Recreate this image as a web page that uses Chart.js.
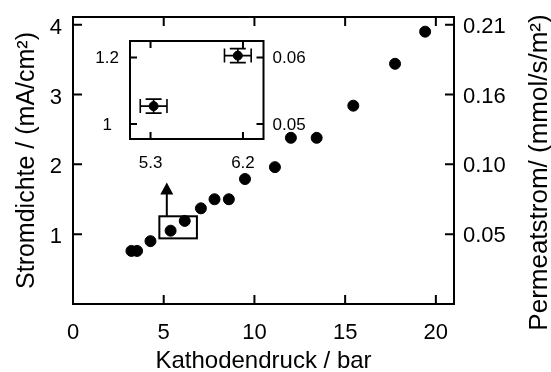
<!DOCTYPE html>
<html>
<head>
<meta charset="utf-8">
<script src="https://cdn.jsdelivr.net/npm/chart.js@4/dist/chart.umd.min.js"></script>
<style>
  html, body { margin: 0; padding: 0; background: #fff; }
  #wrap { position: relative; width: 551px; height: 372px; }
  #main { position: absolute; left: 0; top: 0; width: 551px; height: 372px; }
  #inset { position: absolute; left: 90px; top: 30px; width: 220px; height: 150px; }
</style>
</head>
<body>
<div id="wrap">
  <canvas id="main" width="551" height="372"></canvas>
  <canvas id="inset" width="220" height="150"></canvas>
</div>
<script>
// main data
const pressure = [3.22, 3.53, 4.27, 5.38, 6.16, 7.05, 7.80, 8.59, 9.48, 11.13, 12.01, 13.43, 15.45, 17.75, 19.41];
const currentDensity = [0.76, 0.76, 0.90, 1.05, 1.19, 1.37, 1.50, 1.50, 1.79, 1.96, 2.38, 2.38, 2.84, 3.44, 3.90];

const xTicks = [0, 5, 10, 15, 20];
const yTicks = [1, 2, 3, 4];
const rightTickLabels = ['0.05', '0.10', '0.16', '0.21'];

// inset data
const insetPressure = [5.33, 6.15];
const insetCurrent = [1.054, 1.206];
const insetPressureErr = [0.13, 0.13];
const insetCurrentErr = [0.021, 0.021];
const insetXTicks = [5.3, 6.2];
const insetYTicks = [1, 1.2];
const insetYTickLabels = ['1', '1.2'];
const insetRightTickLabels = ['0.05', '0.06'];

// zoom box + arrow in data units
const zoomBox = { x0: 4.76, x1: 6.83, y0: 0.94, y1: 1.256 };
const arrow = { x: 5.17, yFrom: 1.256, yTo: 1.74 };

const FONT = '"Liberation Sans", Arial, sans-serif';
Chart.defaults.font.family = FONT;
Chart.defaults.color = '#000';

// fixed axis sizes, and no extra padding pushed into the layout
function noPad(scale) {
  scale.paddingTop = 0; scale.paddingBottom = 0;
  scale.paddingLeft = 0; scale.paddingRight = 0;
}
function fixedWidth(w) { return function(scale) { scale.width = w; noPad(scale); }; }
function fixedHeight(h) { return function(scale) { scale.height = h; noPad(scale); }; }
function useTicks(vals) { return function(scale) { scale.ticks = vals.map(v => ({ value: v })); }; }

// frame + inward ticks on all four sides
const frameTicks = {
  id: 'frameTicks',
  afterDraw(chart, args, o) {
    const { ctx, chartArea: a, scales } = chart;
    ctx.save();
    ctx.strokeStyle = '#000';
    ctx.lineWidth = o.width;
    ctx.strokeRect(a.left, a.top, a.right - a.left, a.bottom - a.top);
    ctx.beginPath();
    o.xTicks.forEach(v => {
      const px = scales.x.getPixelForValue(v);
      ctx.moveTo(px, a.bottom); ctx.lineTo(px, a.bottom - o.len);
      ctx.moveTo(px, a.top); ctx.lineTo(px, a.top + o.len);
    });
    o.yTicks.forEach(v => {
      const py = scales.y.getPixelForValue(v);
      ctx.moveTo(a.left, py); ctx.lineTo(a.left + o.len, py);
      ctx.moveTo(a.right, py); ctx.lineTo(a.right - o.len, py);
    });
    ctx.stroke();
    ctx.restore();
  }
};

// box around the zoomed points and arrow up to the inset
const zoomMark = {
  id: 'zoomMark',
  afterDatasetsDraw(chart) {
    const { ctx, scales: { x, y } } = chart;
    const l = x.getPixelForValue(zoomBox.x0), r = x.getPixelForValue(zoomBox.x1);
    const t = y.getPixelForValue(zoomBox.y1), b = y.getPixelForValue(zoomBox.y0);
    ctx.save();
    ctx.strokeStyle = '#000';
    ctx.fillStyle = '#000';
    ctx.lineWidth = 2;
    ctx.strokeRect(l, t, r - l, b - t);
    const ax = x.getPixelForValue(arrow.x);
    const ay0 = y.getPixelForValue(arrow.yFrom), ay1 = y.getPixelForValue(arrow.yTo);
    ctx.beginPath();
    ctx.moveTo(ax, ay0); ctx.lineTo(ax, ay1 + 10);
    ctx.stroke();
    ctx.beginPath();
    ctx.moveTo(ax, ay1); ctx.lineTo(ax - 6.5, ay1 + 12); ctx.lineTo(ax + 6.5, ay1 + 12);
    ctx.closePath();
    ctx.fill();
    ctx.restore();
  }
};

// right axis title reads bottom-to-top
const rightTitle = {
  id: 'rightTitle',
  afterDraw(chart, args, o) {
    const { ctx, chartArea: a } = chart;
    ctx.save();
    ctx.font = o.size + 'px ' + FONT;
    ctx.fillStyle = '#000';
    ctx.textAlign = 'center';
    ctx.textBaseline = 'middle';
    ctx.translate(o.x, (a.top + a.bottom) / 2 + o.dy);
    ctx.rotate(-Math.PI / 2);
    ctx.fillText(o.text, 0, 0);
    ctx.restore();
  }
};

const errorBars = {
  id: 'errorBars',
  beforeDatasetsDraw(chart) {
    const { ctx, scales: { x, y } } = chart;
    ctx.save();
    ctx.strokeStyle = '#000';
    ctx.lineWidth = 1.6;
    ctx.beginPath();
    insetPressure.forEach((p, i) => {
      const cx = x.getPixelForValue(p), cy = y.getPixelForValue(insetCurrent[i]);
      const xl = x.getPixelForValue(p - insetPressureErr[i]), xr = x.getPixelForValue(p + insetPressureErr[i]);
      const yt = y.getPixelForValue(insetCurrent[i] + insetCurrentErr[i]), yb = y.getPixelForValue(insetCurrent[i] - insetCurrentErr[i]);
      ctx.moveTo(xl, cy); ctx.lineTo(xr, cy);
      ctx.moveTo(xl, cy - 7); ctx.lineTo(xl, cy + 7);
      ctx.moveTo(xr, cy - 7); ctx.lineTo(xr, cy + 7);
      ctx.moveTo(cx, yt); ctx.lineTo(cx, yb);
      ctx.moveTo(cx - 8, yt); ctx.lineTo(cx + 8, yt);
      ctx.moveTo(cx - 8, yb); ctx.lineTo(cx + 8, yb);
    });
    ctx.stroke();
    ctx.restore();
  }
};

const noGrid = { display: false, drawTicks: false };
const noBorder = { display: false };

new Chart(document.getElementById('main'), {
  type: 'scatter',
  data: {
    datasets: [{
      data: pressure.map((p, i) => ({ x: p, y: currentDensity[i] })),
      backgroundColor: '#000',
      borderColor: '#000',
      borderWidth: 1,
      pointRadius: 5.5
    }]
  },
  options: {
    responsive: false,
    animation: false,
    layout: { padding: { top: 17, left: 0, right: 0, bottom: 0 } },
    plugins: {
      legend: { display: false },
      tooltip: { enabled: false },
      frameTicks: { len: 9, width: 2, xTicks: xTicks, yTicks: yTicks },
      rightTitle: { text: 'Permeatstrom/ (mmol/s/m²)', size: 26, x: 540, dy: 12 }
    },
    scales: {
      x: {
        type: 'linear', min: 0, max: 21,
        afterBuildTicks: useTicks(xTicks),
        afterFit: fixedHeight(68),
        grid: noGrid, border: noBorder,
        ticks: { font: { size: 22 }, padding: 16, maxRotation: 0 },
        title: { display: true, text: 'Kathodendruck / bar', font: { size: 24, lineHeight: 1 }, padding: { top: 0, bottom: -1 } }
      },
      y: {
        type: 'linear', position: 'left', min: 0, max: 4.11,
        afterBuildTicks: useTicks(yTicks),
        afterFit: fixedWidth(73),
        grid: noGrid, border: noBorder,
        ticks: { font: { size: 22 }, padding: 11, labelOffset: 3 },
        title: { display: true, text: 'Stromdichte / (mA/cm²)', font: { size: 25, lineHeight: 1 }, padding: { top: 15, bottom: 0 } }
      },
      y2: {
        type: 'linear', position: 'right', min: 0, max: 4.11,
        afterBuildTicks: useTicks(yTicks),
        afterFit: fixedWidth(97),
        grid: noGrid, border: noBorder,
        ticks: { font: { size: 22 }, padding: 9, labelOffset: 2, callback: v => rightTickLabels[yTicks.indexOf(v)] }
      }
    }
  },
  plugins: [frameTicks, zoomMark, rightTitle]
});

new Chart(document.getElementById('inset'), {
  type: 'scatter',
  data: {
    datasets: [{
      data: insetPressure.map((p, i) => ({ x: p, y: insetCurrent[i] })),
      backgroundColor: '#000',
      borderColor: '#000',
      borderWidth: 1,
      pointRadius: 4.5
    }]
  },
  options: {
    responsive: false,
    animation: false,
    layout: { padding: { top: 11, left: 0, right: 0, bottom: 0 } },
    plugins: {
      legend: { display: false },
      tooltip: { enabled: false },
      frameTicks: { len: 7, width: 2, xTicks: insetXTicks, yTicks: insetYTicks }
    },
    scales: {
      x: {
        type: 'linear', min: 5.10, max: 6.40,
        afterBuildTicks: useTicks(insetXTicks),
        afterFit: fixedHeight(41),
        grid: noGrid, border: noBorder,
        ticks: { font: { size: 17 }, padding: 14, maxRotation: 0, callback: v => v.toFixed(1) }
      },
      y: {
        type: 'linear', position: 'left', min: 0.955, max: 1.25,
        afterBuildTicks: useTicks(insetYTicks),
        afterFit: fixedWidth(40),
        grid: noGrid, border: noBorder,
        ticks: { font: { size: 17 }, padding: 11, labelOffset: 1, crossAlign: 'center', callback: v => insetYTickLabels[insetYTicks.indexOf(v)] }
      },
      y2: {
        type: 'linear', position: 'right', min: 0.955, max: 1.25,
        afterBuildTicks: useTicks(insetYTicks),
        afterFit: fixedWidth(46.5),
        grid: noGrid, border: noBorder,
        ticks: { font: { size: 17 }, padding: 9, labelOffset: 1, callback: v => insetRightTickLabels[insetYTicks.indexOf(v)] }
      }
    }
  },
  plugins: [frameTicks, errorBars]
});
</script>
</body>
</html>
